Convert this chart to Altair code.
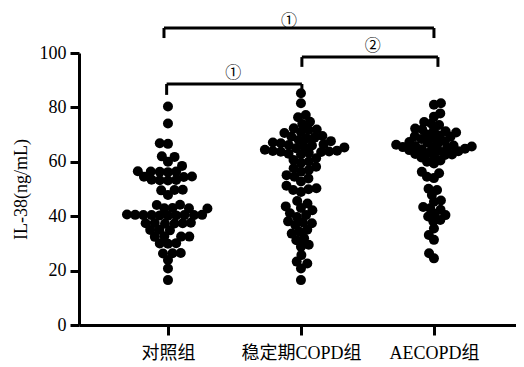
import math
import altair as alt
import pandas as pd

groups = ["对照组", "稳定期COPD组", "AECOPD组"]

control = [80.3, 74.1, 66.8, 66.6, 62.0, 61.8, 60.0, 58.5,
           56.5, 56.4, 56.3, 56.4, 56.2, 54.6, 54.4, 54.5, 53.3, 53.2, 53.4, 53.1,
           49.6, 49.7, 49.5, 47.8, 44.1, 44.2, 42.9, 43.0, 42.8, 42.9,
           40.4, 40.5, 40.3, 40.4, 40.6, 40.2, 40.4, 40.5, 40.3, 40.4,
           37.4, 37.5, 37.3, 37.4, 37.6, 37.2, 34.9, 35.0, 34.8,
           32.5, 32.6, 32.4, 32.5, 30.0, 30.1, 29.9, 26.4, 26.5, 26.3, 23.9, 20.8, 16.5]

stable = [85.2, 81.5, 77.2, 76.4, 74.7, 73.9,
          71.7, 72.3, 71.0, 71.9, 70.6, 68.6, 69.2, 68.0, 68.9, 67.6, 69.5,
          66.2, 66.8, 65.7, 66.4, 65.3, 67.1, 66.0, 65.0,
          63.7, 64.1, 63.3, 63.8, 63.0, 64.4, 63.6, 62.7, 64.0,
          60.7, 61.3, 60.1, 59.6, 57.6, 58.2, 57.0, 56.4, 54.5, 55.1, 53.9, 52.8,
          49.6, 50.3, 48.9, 49.9, 51.2, 44.7, 45.6, 43.0, 43.6, 42.2,
          40.4, 41.1, 39.7, 37.4, 38.1, 36.8, 37.7, 34.3, 35.0, 33.6,
          31.9, 31.2, 28.8, 29.5, 25.7, 23.3, 22.6, 20.8, 16.5]

aecopd = [81.5, 81.0, 77.8, 76.6, 74.1, 74.6, 73.5,
          71.7, 72.2, 71.2, 71.9, 70.8, 69.2, 69.7, 68.7, 69.4, 68.4, 70.0,
          66.8, 67.3, 66.3, 67.0, 66.0, 67.6, 65.8,
          65.0, 65.4, 64.6, 65.2, 64.3, 64.8, 63.9, 64.0, 65.6,
          62.5, 62.9, 62.1, 62.7, 61.6, 63.2, 60.0, 60.5, 59.4,
          55.8, 56.3, 54.5, 54.0, 49.6, 50.1, 47.8, 45.3, 45.8,
          42.9, 43.4, 42.4, 40.4, 40.9, 39.9, 38.6, 38.1, 35.5, 33.1, 31.3, 26.4, 24.5]

PX_PER_Y = 272 / 100
PX_PER_X = 133


def swarm(values, D):
    placed = []
    offs = [0.0] * len(values)
    order = sorted(range(len(values)), key=lambda i: values[i])
    for k, i in enumerate(order):
        y = values[i] * PX_PER_Y
        intervals = []
        for px, py in placed:
            dy = abs(py - y)
            if dy < D:
                w = math.sqrt(D * D - dy * dy)
                intervals.append((px - w, px + w))
        cands = [0.0] + [a for a, b in intervals] + [b for a, b in intervals]
        valid = [c for c in cands
                 if all(not (a + 1e-9 < c < b - 1e-9) for a, b in intervals)]
        sgn = 1 if k % 2 else -1
        best = min(valid, key=lambda c: (round(abs(c), 6), c * sgn))
        offs[i] = best
        placed.append((best, y))
    return [o / PX_PER_X for o in offs]


rows = []
for gi, (vals, d) in enumerate([(control, 8.2), (stable, 8.0), (aecopd, 7.1)], start=1):
    for v, o in zip(vals, swarm(vals, d)):
        rows.append({"x": gi + o, "y": v})
df = pd.DataFrame(rows)

# significance brackets (annotation)
segs = pd.DataFrame([
    {"x": 0.97, "x2": 3.0, "y": 109.2, "y2": 109.2},
    {"x": 0.97, "x2": 0.97, "y": 109.2, "y2": 105.5},
    {"x": 3.0, "x2": 3.0, "y": 109.2, "y2": 105.5},
    {"x": 2.007, "x2": 3.03, "y": 98.5, "y2": 98.5},
    {"x": 2.007, "x2": 2.007, "y": 98.5, "y2": 94.9},
    {"x": 3.03, "x2": 3.03, "y": 98.5, "y2": 94.9},
    {"x": 0.99, "x2": 2.007, "y": 88.6, "y2": 88.6},
    {"x": 0.99, "x2": 0.99, "y": 88.6, "y2": 84.6},
    {"x": 2.007, "x2": 2.007, "y": 88.6, "y2": 86.4},
])
marks = pd.DataFrame([
    {"x": 1.91, "y": 111.9, "t": "①"},
    {"x": 2.54, "y": 102.6, "t": "②"},
    {"x": 1.49, "y": 92.6, "t": "①"},
])

x_scale = alt.Scale(domain=[0.331, 3.617], nice=False, zero=False)
y_scale = alt.Scale(domain=[0, 100], nice=False, zero=True)

label_expr = ("datum.value == 1 ? '%s' : datum.value == 2 ? '%s' : '%s'"
              % tuple(groups))

FONT = "Liberation Serif, Noto Sans CJK SC"

x_axis = alt.Axis(values=[1, 2, 3], labelExpr=label_expr, title=None,
                  grid=False, tickSize=10, labelPadding=9, labelFontSize=18)
y_axis = alt.Axis(values=[0, 20, 40, 60, 80, 100], title="IL-38(ng/mL)",
                  grid=False, tickSize=9, labelPadding=4, labelFontSize=18,
                  titleFontSize=18, titleFontWeight="normal", titlePadding=9)

points = alt.Chart(df).mark_circle(size=100, color="black", opacity=1, clip=False).encode(
    x=alt.X("x:Q", scale=x_scale, axis=x_axis),
    y=alt.Y("y:Q", scale=y_scale, axis=y_axis),
)

rules = alt.Chart(segs).mark_rule(color="black", strokeWidth=3, clip=False).encode(
    x=alt.X("x:Q", scale=x_scale, axis=x_axis),
    x2="x2:Q",
    y=alt.Y("y:Q", scale=y_scale, axis=y_axis),
    y2="y2:Q",
)

texts = alt.Chart(marks).mark_text(font="Noto Sans CJK SC", fontSize=16, color="black",
                                   clip=False).encode(
    x=alt.X("x:Q", scale=x_scale, axis=x_axis),
    y=alt.Y("y:Q", scale=y_scale, axis=y_axis),
    text="t:N",
)

chart = alt.layer(points, rules, texts).properties(
    width=437, height=272,
    autosize=alt.AutoSizeParams(type="none"),
    padding={"left": 71, "top": 45, "right": 0, "bottom": 38},
).configure_view(stroke=None).configure_axis(
    domainColor="black", domainWidth=3, tickColor="black", tickWidth=3,
    labelColor="black", titleColor="black", labelFont=FONT, titleFont=FONT,
)

chart.save("out.html", embed_options={"renderer": "svg", "actions": False})
